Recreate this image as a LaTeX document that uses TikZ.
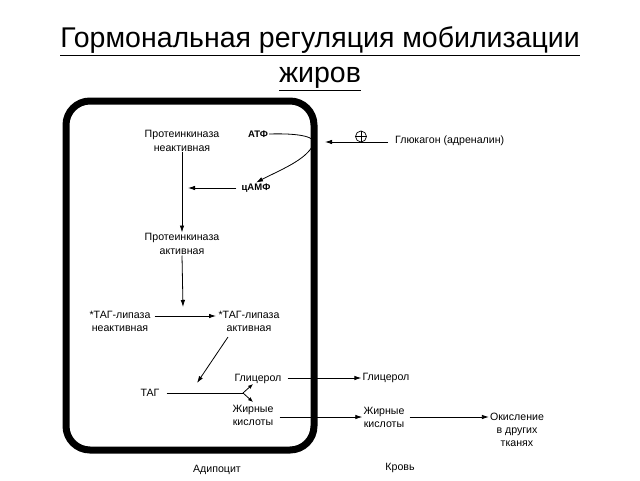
\documentclass[tikz,border=0pt]{standalone}
\usepackage{fontspec}
\setmainfont{Liberation Sans}
\usetikzlibrary{arrows.meta}
\begin{document}
\begin{tikzpicture}[x=1pt,y=-1pt,
  lbl/.style={font=\fontsize{10.6}{13.2}\selectfont, align=center, inner sep=1pt},
  blbl/.style={font=\fontsize{9.5}{11}\selectfont\bfseries, inner sep=1pt},
  arr/.style={line width=0.8pt, -{Latex[length=7pt,width=4.5pt]}},
  sarr/.style={line width=0.8pt, -{Latex[length=5pt,width=4pt]}},
  cell/.style={line width=7pt, rounded corners=24pt}]
\useasboundingbox (0,0) rectangle (640,480);
% title
\node (title) at (320,59) [font=\fontsize{28.5}{35}\selectfont, align=center]
  {\underline{Гормональная регуляция мобилизации}\\\underline{жиров}};
% cell
\draw[cell] (66,101) rectangle (314,450);
% nodes
\node[lbl] (pki) at (182,141) {Протеинкиназа\\неактивная};
\node[lbl] (pka) at (182,244) {Протеинкиназа\\активная};
\node[blbl] (atf) at (258,134) {АТФ};
\node[blbl] (camp) at (256,188) {цАМФ};
\node[lbl, anchor=west] (glu) at (394,141) {Глюкагон (адреналин)};
\node[draw, circle, line width=0.7pt, minimum size=11pt, inner sep=0pt] (plus) at (361,136.5) {};
\draw[line width=0.7pt] (plus.north) -- (plus.south) (plus.west) -- (plus.east);
\node[lbl] (tli) at (120,321) {*ТАГ-липаза\\неактивная};
\node[lbl] (tla) at (249,321) {*ТАГ-липаза\\активная};
\node[lbl] (tag) at (150,393) {ТАГ};
\node[lbl] (gl1) at (258,379) {Глицерол};
\node[lbl] (fa1) at (253,415) {Жирные\\кислоты};
\node[lbl] (gl2) at (386,378) {Глицерол};
\node[lbl] (fa2) at (384,417) {Жирные\\кислоты};
\node[lbl] (ox) at (517,430) {Окисление\\в других\\тканях};
\node[lbl] (adi) at (217,470) {Адипоцит};
\node[lbl] (blood) at (400,468) {Кровь};
% coordinates
\coordinate (mem) at (313,145);
\coordinate (pkline) at (188,188);
\coordinate (fork) at (243,393);
\coordinate (forkU) at (253,384);
\coordinate (forkD) at (253,402);
\coordinate (gluend) at (325,142);
\coordinate (tlaend) at (216,316);
\coordinate (pkaend) at (183,307);
\coordinate (tagstart) at (228,337);
\coordinate (tagend) at (197,383);
% connectors
\draw[arr] (glu.west |- gluend) ++(-6,0) -- (gluend);
\draw[arr] (atf.east) .. controls (300,133) and (318,137) .. (mem)
  .. controls (306,160) and (280,170) .. (camp.north);
\draw[arr] (camp.west) ++(-4,0) -- (pkline);
\draw[arr] (pki.south) ++(0,-1) -- (pka.north);
\draw[arr] (pka.south) -- (pkaend);
\draw[arr] (tli.east |- tlaend) ++(3,0) -- (tlaend);
\draw[arr] (tagstart) -- (tagend);
\draw[line width=0.8pt] (tag.east) ++(6,0) -- (fork);
\draw[sarr] (fork) -- (forkU);
\draw[sarr] (fork) -- (forkD);
\draw[arr, shorten <=5pt] (gl1.east |- gl2) -- (gl2.west);
\draw[arr, shorten <=5pt] (fa1.east |- fa2) -- (fa2.west);
\draw[arr, shorten <=4pt] (fa2.east) -- (ox.west |- fa2.east);
\end{tikzpicture}
\end{document}
